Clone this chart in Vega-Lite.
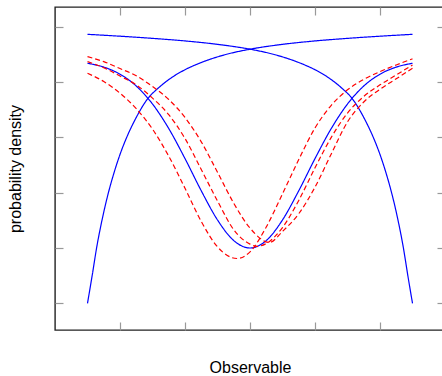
{
  "$schema": "https://vega.github.io/schema/vega-lite/v6.json",
  "autosize": {"type": "none"},
  "padding": {"left": 55, "top": 7, "right": 0, "bottom": 46},
  "width": 390,
  "height": 323,
  "config": {
    "view": {"stroke": "#222222", "strokeWidth": 1.4},
    "axis": {
      "labels": false, "domain": false, "grid": false,
      "tickSize": -8, "tickColor": "#999999", "tickWidth": 1.2,
      "titleFont": "Liberation Sans", "titleFontSize": 16, "titleFontWeight": "normal", "titleColor": "#000000"
    }
  },
  "data": {"values": [
    {"series": "rise", "type": "model", "u": 0.5, "v": 0},
    {"series": "rise", "type": "model", "u": 0.569, "v": 0.481},
    {"series": "rise", "type": "model", "u": 0.646, "v": 1.042},
    {"series": "rise", "type": "model", "u": 0.723, "v": 1.503},
    {"series": "rise", "type": "model", "u": 0.815, "v": 1.969},
    {"series": "rise", "type": "model", "u": 0.908, "v": 2.36},
    {"series": "rise", "type": "model", "u": 1.0, "v": 2.691},
    {"series": "rise", "type": "model", "u": 1.108, "v": 3.014},
    {"series": "rise", "type": "model", "u": 1.231, "v": 3.318},
    {"series": "rise", "type": "model", "u": 1.431, "v": 3.707},
    {"series": "rise", "type": "model", "u": 1.585, "v": 3.888},
    {"series": "rise", "type": "model", "u": 1.769, "v": 4.061},
    {"series": "rise", "type": "model", "u": 2.0, "v": 4.224},
    {"series": "rise", "type": "model", "u": 2.231, "v": 4.345},
    {"series": "rise", "type": "model", "u": 2.615, "v": 4.495},
    {"series": "rise", "type": "model", "u": 3.0, "v": 4.595},
    {"series": "rise", "type": "model", "u": 3.462, "v": 4.677},
    {"series": "rise", "type": "model", "u": 3.923, "v": 4.736},
    {"series": "rise", "type": "model", "u": 4.538, "v": 4.794},
    {"series": "rise", "type": "model", "u": 5.5, "v": 4.864},

    {"series": "fall", "type": "model", "u": 0.5, "v": 4.864},
    {"series": "fall", "type": "model", "u": 1.462, "v": 4.794},
    {"series": "fall", "type": "model", "u": 2.077, "v": 4.736},
    {"series": "fall", "type": "model", "u": 2.538, "v": 4.677},
    {"series": "fall", "type": "model", "u": 3.0, "v": 4.595},
    {"series": "fall", "type": "model", "u": 3.385, "v": 4.495},
    {"series": "fall", "type": "model", "u": 3.769, "v": 4.345},
    {"series": "fall", "type": "model", "u": 4.0, "v": 4.224},
    {"series": "fall", "type": "model", "u": 4.231, "v": 4.061},
    {"series": "fall", "type": "model", "u": 4.415, "v": 3.888},
    {"series": "fall", "type": "model", "u": 4.569, "v": 3.707},
    {"series": "fall", "type": "model", "u": 4.769, "v": 3.318},
    {"series": "fall", "type": "model", "u": 4.892, "v": 3.014},
    {"series": "fall", "type": "model", "u": 5.0, "v": 2.691},
    {"series": "fall", "type": "model", "u": 5.092, "v": 2.36},
    {"series": "fall", "type": "model", "u": 5.185, "v": 1.969},
    {"series": "fall", "type": "model", "u": 5.277, "v": 1.503},
    {"series": "fall", "type": "model", "u": 5.354, "v": 1.042},
    {"series": "fall", "type": "model", "u": 5.431, "v": 0.481},
    {"series": "fall", "type": "model", "u": 5.5, "v": 0},

    {"series": "dip", "type": "model", "u": 0.5, "v": 4.34},
    {"series": "dip", "type": "model", "u": 0.75, "v": 4.271},
    {"series": "dip", "type": "model", "u": 1.0, "v": 4.143},
    {"series": "dip", "type": "model", "u": 1.25, "v": 3.929},
    {"series": "dip", "type": "model", "u": 1.5, "v": 3.604},
    {"series": "dip", "type": "model", "u": 1.75, "v": 3.16},
    {"series": "dip", "type": "model", "u": 2.0, "v": 2.617},
    {"series": "dip", "type": "model", "u": 2.25, "v": 2.035},
    {"series": "dip", "type": "model", "u": 2.5, "v": 1.507},
    {"series": "dip", "type": "model", "u": 2.75, "v": 1.134},
    {"series": "dip", "type": "model", "u": 3.0, "v": 1.0},
    {"series": "dip", "type": "model", "u": 3.25, "v": 1.134},
    {"series": "dip", "type": "model", "u": 3.5, "v": 1.507},
    {"series": "dip", "type": "model", "u": 3.75, "v": 2.035},
    {"series": "dip", "type": "model", "u": 4.0, "v": 2.617},
    {"series": "dip", "type": "model", "u": 4.25, "v": 3.16},
    {"series": "dip", "type": "model", "u": 4.5, "v": 3.604},
    {"series": "dip", "type": "model", "u": 4.75, "v": 3.929},
    {"series": "dip", "type": "model", "u": 5.0, "v": 4.143},
    {"series": "dip", "type": "model", "u": 5.25, "v": 4.271},
    {"series": "dip", "type": "model", "u": 5.5, "v": 4.34},

    {"series": "A", "type": "variant", "u": 0.5, "v": 4.16},
    {"series": "A", "type": "variant", "u": 0.75, "v": 4.01},
    {"series": "A", "type": "variant", "u": 1.0, "v": 3.8},
    {"series": "A", "type": "variant", "u": 1.25, "v": 3.52},
    {"series": "A", "type": "variant", "u": 1.5, "v": 3.15},
    {"series": "A", "type": "variant", "u": 1.75, "v": 2.66},
    {"series": "A", "type": "variant", "u": 2.0, "v": 2.08},
    {"series": "A", "type": "variant", "u": 2.25, "v": 1.48},
    {"series": "A", "type": "variant", "u": 2.5, "v": 1.02},
    {"series": "A", "type": "variant", "u": 2.8, "v": 0.81},
    {"series": "A", "type": "variant", "u": 3.0, "v": 0.93},
    {"series": "A", "type": "variant", "u": 3.25, "v": 1.38},
    {"series": "A", "type": "variant", "u": 3.5, "v": 1.98},
    {"series": "A", "type": "variant", "u": 3.75, "v": 2.6},
    {"series": "A", "type": "variant", "u": 4.0, "v": 3.17},
    {"series": "A", "type": "variant", "u": 4.25, "v": 3.58},
    {"series": "A", "type": "variant", "u": 4.5, "v": 3.86},
    {"series": "A", "type": "variant", "u": 4.75, "v": 4.05},
    {"series": "A", "type": "variant", "u": 5.0, "v": 4.19},
    {"series": "A", "type": "variant", "u": 5.25, "v": 4.31},
    {"series": "A", "type": "variant", "u": 5.5, "v": 4.42},

    {"series": "B", "type": "variant", "u": 0.5, "v": 4.37},
    {"series": "B", "type": "variant", "u": 0.75, "v": 4.26},
    {"series": "B", "type": "variant", "u": 1.0, "v": 4.11},
    {"series": "B", "type": "variant", "u": 1.25, "v": 3.95},
    {"series": "B", "type": "variant", "u": 1.5, "v": 3.71},
    {"series": "B", "type": "variant", "u": 1.75, "v": 3.41},
    {"series": "B", "type": "variant", "u": 2.0, "v": 2.98},
    {"series": "B", "type": "variant", "u": 2.25, "v": 2.42},
    {"series": "B", "type": "variant", "u": 2.5, "v": 1.85},
    {"series": "B", "type": "variant", "u": 2.75, "v": 1.33},
    {"series": "B", "type": "variant", "u": 3.0, "v": 1.07},
    {"series": "B", "type": "variant", "u": 3.11, "v": 1.03},
    {"series": "B", "type": "variant", "u": 3.25, "v": 1.08},
    {"series": "B", "type": "variant", "u": 3.5, "v": 1.37},
    {"series": "B", "type": "variant", "u": 3.75, "v": 1.86},
    {"series": "B", "type": "variant", "u": 4.0, "v": 2.45},
    {"series": "B", "type": "variant", "u": 4.25, "v": 3.0},
    {"series": "B", "type": "variant", "u": 4.5, "v": 3.44},
    {"series": "B", "type": "variant", "u": 4.75, "v": 3.74},
    {"series": "B", "type": "variant", "u": 5.0, "v": 3.95},
    {"series": "B", "type": "variant", "u": 5.25, "v": 4.13},
    {"series": "B", "type": "variant", "u": 5.5, "v": 4.31},

    {"series": "C", "type": "variant", "u": 0.5, "v": 4.46},
    {"series": "C", "type": "variant", "u": 0.75, "v": 4.37},
    {"series": "C", "type": "variant", "u": 1.0, "v": 4.245},
    {"series": "C", "type": "variant", "u": 1.25, "v": 4.115},
    {"series": "C", "type": "variant", "u": 1.5, "v": 3.92},
    {"series": "C", "type": "variant", "u": 1.75, "v": 3.685},
    {"series": "C", "type": "variant", "u": 2.0, "v": 3.36},
    {"series": "C", "type": "variant", "u": 2.25, "v": 2.92},
    {"series": "C", "type": "variant", "u": 2.5, "v": 2.37},
    {"series": "C", "type": "variant", "u": 2.75, "v": 1.81},
    {"series": "C", "type": "variant", "u": 3.0, "v": 1.36},
    {"series": "C", "type": "variant", "u": 3.3, "v": 1.1},
    {"series": "C", "type": "variant", "u": 3.5, "v": 1.3},
    {"series": "C", "type": "variant", "u": 3.75, "v": 1.62},
    {"series": "C", "type": "variant", "u": 4.0, "v": 2.1},
    {"series": "C", "type": "variant", "u": 4.25, "v": 2.7},
    {"series": "C", "type": "variant", "u": 4.5, "v": 3.28},
    {"series": "C", "type": "variant", "u": 4.75, "v": 3.64},
    {"series": "C", "type": "variant", "u": 5.0, "v": 3.87},
    {"series": "C", "type": "variant", "u": 5.25, "v": 4.06},
    {"series": "C", "type": "variant", "u": 5.5, "v": 4.25}
  ]},
  "layer": [
    {
      "mark": {"type": "line", "interpolate": "monotone", "strokeWidth": 1.2},
      "encoding": {
        "x": {"field": "u", "type": "quantitative", "scale": {"domain": [0, 6], "nice": false, "zero": false},
              "axis": {"orient": "bottom", "values": [1, 2, 3, 4, 5], "title": "Observable", "titleY": 42.5, "titleBaseline": "alphabetic"}},
        "y": {"field": "v", "type": "quantitative", "scale": {"domain": [-0.483, 5.358], "nice": false, "zero": false},
              "axis": {"orient": "left", "values": [0, 1, 2, 3, 4, 5], "title": "probability density", "titleX": -35, "titleBaseline": "alphabetic"}},
        "detail": {"field": "series"},
        "color": {"field": "type", "type": "nominal", "scale": {"domain": ["model", "variant"], "range": ["#0000ff", "#ff0000"]}, "legend": null},
        "strokeDash": {"field": "type", "type": "nominal", "scale": {"domain": ["model", "variant"], "range": [[1, 0], [5, 3]]}, "legend": null}
      }
    },
    {
      "mark": {"type": "point", "opacity": 0},
      "encoding": {
        "x": {"field": "u", "type": "quantitative", "axis": {"orient": "top", "values": [1, 2, 3, 4, 5], "title": null}},
        "y": {"field": "v", "type": "quantitative", "axis": {"orient": "right", "values": [0, 1, 2, 3, 4, 5], "title": null}}
      }
    }
  ],
  "resolve": {"axis": {"x": "independent", "y": "independent"}}
}
